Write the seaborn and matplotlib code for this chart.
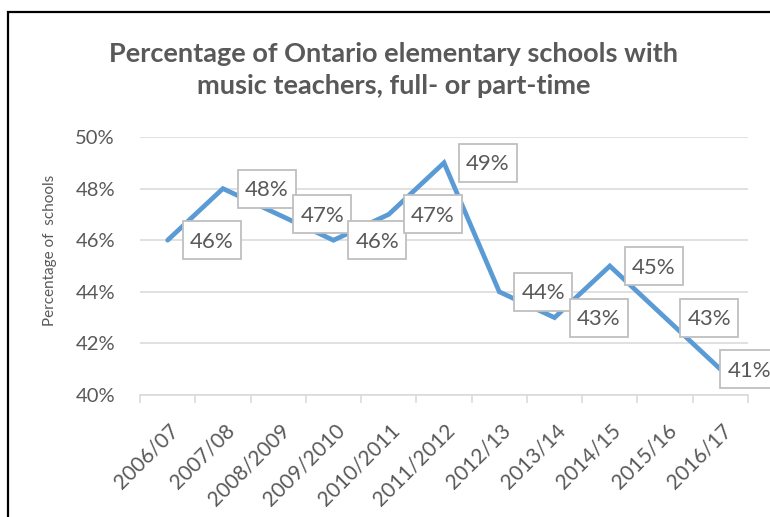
import matplotlib
matplotlib.use('Agg')
import matplotlib.pyplot as plt
import seaborn as sns
import pandas as pd
from matplotlib.patches import Rectangle
from matplotlib.transforms import ScaledTranslation
from matplotlib.ticker import FixedLocator, FuncFormatter

# Data
years = ['2006/07', '2007/08', '2008/2009', '2009/2010', '2010/2011', '2011/2012',
         '2012/13', '2013/14', '2014/15', '2015/16', '2016/17']
pct_schools = [46, 48, 47, 46, 47, 49, 44, 43, 45, 43, 41]
y_ticks = [40, 42, 44, 46, 48, 50]

TEXT = '#595959'
LINE = '#5B9BD5'
GRID = '#D9D9D9'

sns.set_theme(style='white')
plt.rcParams['font.family'] = ['Lato', 'DejaVu Sans']

df = pd.DataFrame({'year': years, 'pct': pct_schools})
df['pos'] = range(len(df))

fig = plt.figure(figsize=(7.7, 5.17), dpi=100)
ax = fig.add_axes([140 / 770, 1 - 395 / 517, 608 / 770, 258 / 517])

sns.lineplot(data=df, x='pos', y='pct', ax=ax, color=LINE, linewidth=3.4,
             solid_joinstyle='miter', legend=False)

ax.set_xlim(-0.5, len(years) - 0.5)
ax.set_ylim(40, 50)
ax.yaxis.set_major_locator(FixedLocator(y_ticks))
ax.yaxis.set_major_formatter(FuncFormatter(lambda v, _: f'{v:.0f}%'))
ax.grid(axis='y', color=GRID, linewidth=1.1)
ax.grid(axis='x', visible=False)

# category labels centred, tick marks on the boundaries
ax.set_xticks(range(len(years)))
ax.set_xticklabels(years, rotation=45, ha='right', va='center', rotation_mode='anchor')
ax.set_xticks([i - 0.5 for i in range(len(years) + 1)], minor=True)
ax.tick_params(axis='x', which='major', length=0, pad=23, labelsize=15, labelcolor=TEXT)
ax.tick_params(axis='x', which='minor', bottom=True, length=6, width=1.1, color=GRID)
ax.tick_params(axis='y', length=0, pad=18, labelsize=14.5, labelcolor=TEXT)
for lab in ax.get_xticklabels():
    lab.set_transform(lab.get_transform() + ScaledTranslation(8 / 100, 0, fig.dpi_scale_trans))

for side in ['top', 'right', 'left']:
    ax.spines[side].set_visible(False)
ax.spines['bottom'].set_color(GRID)
ax.spines['bottom'].set_linewidth(1.1)
ax.set_xlabel('')
ax.set_ylabel('')

# data labels in boxes, to the right of each point (sizes in inches)
box_w, box_h = 0.58, 0.38
for i, v in enumerate(pct_schools):
    left = 0.15 if i < len(pct_schools) - 1 else 0.0
    trans = fig.dpi_scale_trans + ScaledTranslation(i, v, ax.transData)
    ax.add_patch(Rectangle((left, -box_h / 2), box_w, box_h, transform=trans,
                           fc='white', ec='#BFBFBF', lw=1.3, clip_on=False, zorder=3))
    ax.text(left + box_w / 2, -0.077, f'{v}%', transform=trans, ha='center',
            va='baseline', fontsize=16, color=TEXT, clip_on=False, zorder=4)

fig.text(394 / 770, 1 - 70 / 517,
         'Percentage of Ontario elementary schools with\nmusic teachers, full- or part-time',
         ha='center', va='center', fontsize=19.5, fontweight='bold', color=TEXT,
         linespacing=1.35)
fig.text(50 / 770, 1 - 250 / 517, 'Percentage of  schools', rotation=90,
         ha='center', va='center', fontsize=11, color=TEXT)

# chart frame (cropped on the right and bottom)
fig.add_artist(Rectangle((8 / 770, -0.2), 2, 1 - 12 / 517 + 0.2, transform=fig.transFigure,
                         fill=False, ec='black', lw=1.6, clip_on=False))

fig.savefig('out.png', dpi=100)
